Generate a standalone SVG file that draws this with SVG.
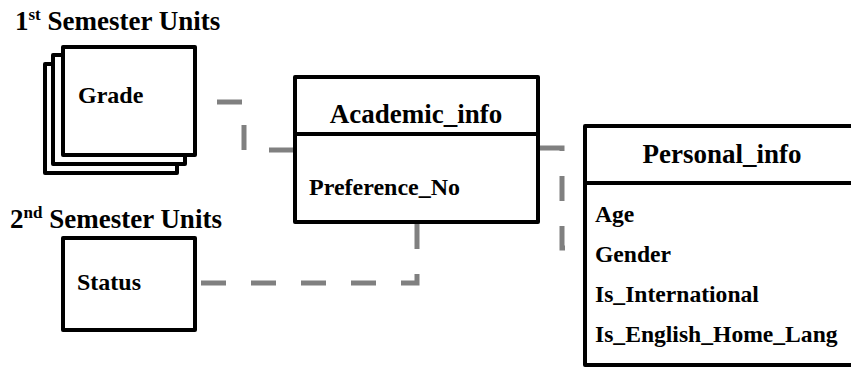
<svg xmlns="http://www.w3.org/2000/svg" width="851" height="372" viewBox="0 0 851 372">
  <style>
    .box { fill: #fff; stroke: #000; stroke-width: 4; stroke-linejoin: round; }
    .div { stroke: #000; stroke-width: 4; }
    .link { fill: none; stroke: #808080; stroke-width: 5; stroke-dasharray: 25 25; }
  </style>
  <rect width="851" height="372" fill="#fff"/>

  <g id="connectors">
    <path class="link" d="M217 102 H244 V150 H293"/>
    <path class="link" d="M540 148 H562 V248 H583"/>
    <path class="link" d="M417 224 V283 H197"/>
  </g>

  <g font-family="Liberation Serif, Times New Roman, serif" font-weight="bold" fill="#000">
    <g id="label-sem1">
      <text font-size="27" x="15" y="30">1<tspan font-size="17" dy="-10">st</tspan><tspan dy="10"> Semester Units</tspan></text>
    </g>
    <g id="label-sem2">
      <text font-size="27" x="10" y="228">2<tspan font-size="17" dy="-10">nd</tspan><tspan dy="10"> Semester Units</tspan></text>
    </g>

    <g id="grade">
      <rect class="box" x="45" y="64" width="132" height="109"/>
      <rect class="box" x="53" y="55" width="132" height="109"/>
      <rect class="box" x="63" y="47" width="132" height="108"/>
      <text font-size="24" x="78" y="103">Grade</text>
    </g>

    <g id="status">
      <rect class="box" x="63" y="238" width="132" height="92"/>
      <text font-size="24" x="77" y="290">Status</text>
    </g>

    <g id="academic-info">
      <rect class="box" x="295" y="77" width="243" height="145"/>
      <line class="div" x1="295" y1="134" x2="538" y2="134"/>
      <text font-size="27" text-anchor="middle" x="416" y="123">Academic_info</text>
      <text font-size="24" x="309" y="195">Preference_No</text>
    </g>

    <g id="personal-info">
      <rect class="box" x="585" y="126" width="280" height="239"/>
      <line class="div" x1="585" y1="183" x2="865" y2="183"/>
      <text font-size="27" text-anchor="middle" x="722" y="163">Personal_info</text>
      <text font-size="23.6" x="595" y="222">Age</text>
      <text font-size="23.6" x="595" y="262">Gender</text>
      <text font-size="23.6" x="595" y="302">Is_International</text>
      <text font-size="23.6" x="595" y="342">Is_English_Home_Lang</text>
    </g>
  </g>
</svg>
